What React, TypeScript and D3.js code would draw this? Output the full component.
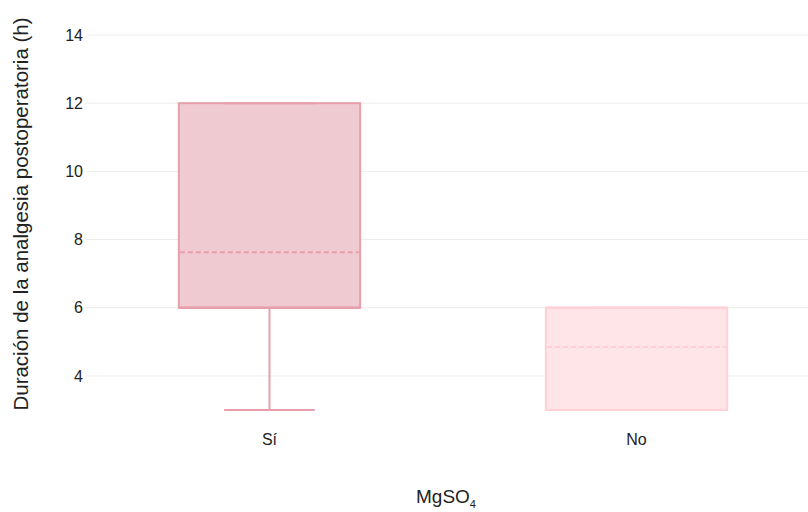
import React from "react";
import * as d3 from "d3";

const categories = ["Sí", "No"];
const q1Values = [6, 3];
const medianValues = [6, 6];
const q3Values = [12, 6];
const minValues = [3, 3];
const maxValues = [12, 6];
const meanValues = [7.63, 4.85];
const yTicks = [4, 6, 8, 10, 12, 14];
const strokeColors = ["#e79fac", "#ffd0d6"];
const fillColors = ["#f0cad1", "#ffe5e8"];

export default function App() {
  const W = 808, H = 512;
  const x = d3.scaleBand<string>().domain(categories).range([86, 820]).padding(0);
  const y = d3.scaleLinear().domain([3, 14]).range([410, 35]);
  const bw = x.bandwidth();
  const boxW = bw * 0.494;
  const capW = boxW * 0.5;
  const font = "'Liberation Sans', Arial, Helvetica, sans-serif";
  return (
    <svg width={W} height={H} style={{ position: "absolute", left: 0, top: 0 }}>
      <rect width={W} height={H} fill="#fff" />
      {yTicks.map((t) => (
        <g key={t}>
          <line x1={86} x2={W} y1={y(t)} y2={y(t)} stroke="#ececec" strokeWidth={1} />
          <text x={83} y={y(t)} dy="0.35em" textAnchor="end" fontSize={16} fontFamily={font} fill="#222">
            {t}
          </text>
        </g>
      ))}
      {categories.map((c, i) => {
        const cx = x(c)! + bw / 2;
        const x0 = cx - boxW / 2;
        const sc = strokeColors[i];
        return (
          <g key={c}>
            <line x1={cx} x2={cx} y1={y(minValues[i])} y2={y(q1Values[i])} stroke={sc} strokeWidth={2} />
            <line x1={cx} x2={cx} y1={y(maxValues[i])} y2={y(q3Values[i])} stroke={sc} strokeWidth={2} />
            <rect x={x0} y={y(q3Values[i])} width={boxW} height={y(q1Values[i]) - y(q3Values[i])} fill={fillColors[i]} stroke={sc} strokeWidth={2} />
            <line x1={x0} x2={x0 + boxW} y1={y(medianValues[i])} y2={y(medianValues[i])} stroke={sc} strokeWidth={2.5} />
            <line x1={x0 + 1} x2={x0 + boxW - 1} y1={y(meanValues[i])} y2={y(meanValues[i])} stroke={sc} strokeWidth={2} strokeDasharray="5,3" />
            <line x1={cx - capW / 2} x2={cx + capW / 2} y1={y(minValues[i])} y2={y(minValues[i])} stroke={sc} strokeWidth={2} />
            <line x1={cx - capW / 2} x2={cx + capW / 2} y1={y(maxValues[i])} y2={y(maxValues[i])} stroke={sc} strokeWidth={2} />
            <text x={cx} y={445} textAnchor="middle" fontSize={16} fontFamily={font} fill="#222">
              {c}
            </text>
          </g>
        );
      })}
      <text x={446} y={503} textAnchor="middle" fontSize={19} fontFamily={font} fill="#222">
        MgSO<tspan fontSize={11} dy={5}>4</tspan>
      </text>
      <text transform={`translate(28,214) rotate(-90)`} textAnchor="middle" fontSize={20.5} fontFamily={font} fill="#222">
        Duración de la analgesia postoperatoria (h)
      </text>
    </svg>
  );
}
